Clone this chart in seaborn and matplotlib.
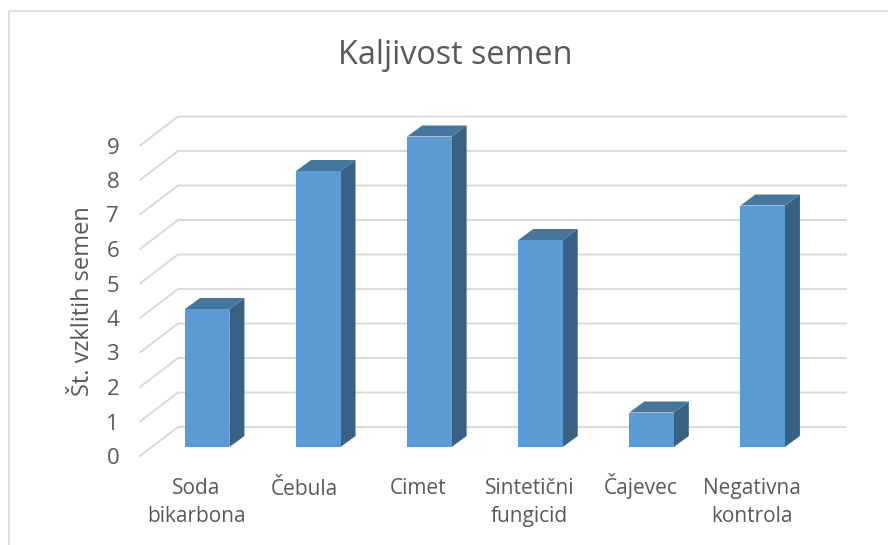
import numpy as np
import pandas as pd
import matplotlib
matplotlib.use("Agg")
import matplotlib.pyplot as plt
from matplotlib.patches import Polygon, Rectangle
from matplotlib.transforms import Affine2D
import seaborn as sns

categories = ["Soda\nbikarbona", "Čebula", "Cimet", "Sintetični\nfungicid", "Čajevec", "Negativna\nkontrola"]
values = [4, 8, 9, 6, 1, 7]
y_ticks = [0, 1, 2, 3, 4, 5, 6, 7, 8, 9]
title = "Kaljivost semen"
y_label = "Št. vzklitih semen"

W, H = 888, 545
FRONT, TOP, SIDE = "#5B9BD5", "#44779F", "#376286"
GRID, TEXT = "#D9D9D9", "#595959"

sns.set_theme(style="white")
plt.rcParams["font.family"] = ["Open Sans", "DejaVu Sans"]

fig = plt.figure(figsize=(W / 100, H / 100), dpi=100)
# axes box in pixels: left 140, right 846, top 116, bottom 456
ax = fig.add_axes([140 / W, 1 - 456 / H, (846 - 140) / W, (456 - 116) / H])

df = pd.DataFrame({"cat": categories, "val": values})
sns.barplot(data=df, x="cat", y="val", color=FRONT, saturation=1, width=0.4, ax=ax, zorder=3, linewidth=0)

px_x, px_y = 111.1, 34.5
ax.set_xlim((140 - 207.2) / px_x, (846 - 207.2) / px_x)
ax.set_ylim((447 - 456) / px_y, (447 - 116) / px_y)

# floor/wall gridlines
wall_dx, wall_dy = 38 / px_x, 29 / px_y
x0, x1 = ax.get_xlim()
y_front = ax.get_ylim()[0]
for v in y_ticks:
    yf = y_front + v
    ax.plot([x0, x0 + wall_dx, x1], [yf, yf + wall_dy, yf + wall_dy], color=GRID, lw=1.4, zorder=1,
            solid_joinstyle="miter", clip_on=False)

# 3-D depth faces of each bar
dx, dy = 15 / px_x, 11 / px_y
hw = 0.2
for i, v in enumerate(values):
    ax.add_patch(Polygon([(i + hw, 0), (i + hw + dx, dy), (i + hw + dx, v + dy), (i + hw, v)],
                         closed=True, facecolor=SIDE, edgecolor="none", zorder=2.9))
    ax.add_patch(Polygon([(i - hw, v), (i - hw + dx, v + dy), (i + hw + dx, v + dy), (i + hw, v)],
                         closed=True, facecolor=TOP, edgecolor="none", zorder=2.9))

sns.despine(ax=ax, left=True, bottom=True)
ax.set_xlabel("")
ax.set_ylabel("")
ax.set_xticks(range(len(categories)))
ax.set_xticklabels(categories, fontsize=15, color=TEXT, linespacing=1.45)
ax.set_yticks(y_ticks)
ax.set_yticklabels([str(v) for v in y_ticks], fontsize=16, color=TEXT)
ax.tick_params(axis="both", length=0)
ax.tick_params(axis="x", pad=16)
ax.tick_params(axis="y", pad=15)

x_shifts = [-11, -14, -11, -11, -11, -11]
y_shifts = [0, -1, 0, 0, 5, 0]
for lab, sx, sy in zip(ax.get_xticklabels(), x_shifts, y_shifts):
    lab.set_transform(lab.get_transform() + Affine2D().translate(sx, sy))
for lab in ax.get_yticklabels():
    lab.set_transform(lab.get_transform() + Affine2D().translate(0, -9))

fig.text(455 / W, 1 - 56 / H, title, ha="center", va="center", fontsize=23.3, color=TEXT)
fig.text(83 / W, 1 - 301 / H, y_label, rotation=90, ha="center", va="center", fontsize=17, color=TEXT)

# chart-area border
fig.add_artist(Rectangle((9 / W, -0.02), 1.1, 1 - 11 / H + 0.02, transform=fig.transFigure,
                         fill=False, edgecolor=GRID, lw=1.2))

fig.savefig("out.png", dpi=100, facecolor="white")
